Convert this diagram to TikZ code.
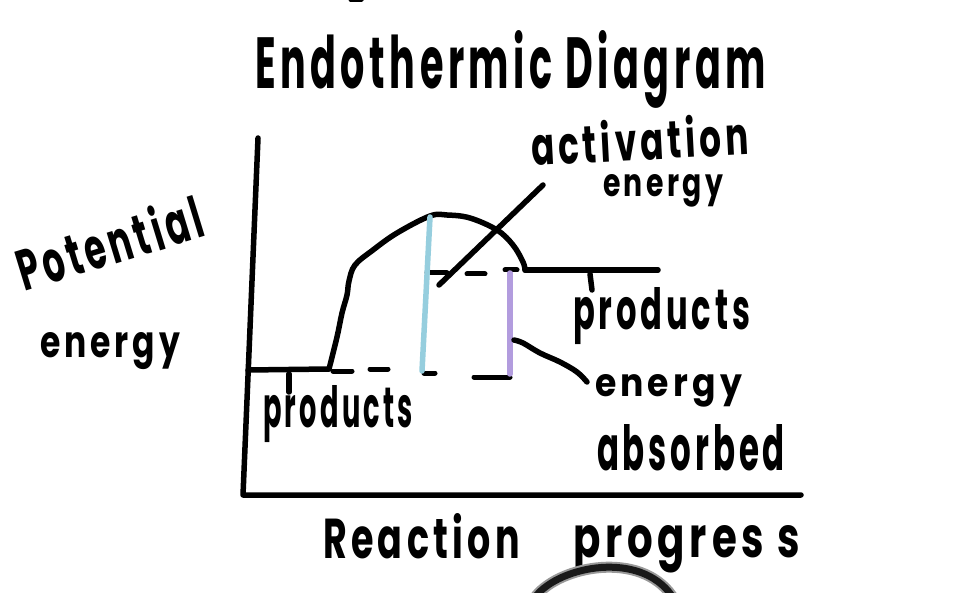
\documentclass[tikz,border=0pt]{standalone}
\usepackage{fontspec}
\setmainfont{Poppins}[LetterSpace=12]
\usepackage{graphicx}
\newcommand\hwtext[3]{\resizebox{#1pt}{#2pt}{\fontsize{40}{40}\selectfont\bfseries #3}}
\definecolor{actblue}{RGB}{150,206,222}
\definecolor{absviolet}{RGB}{178,156,222}
\begin{document}
\begin{tikzpicture}[x=1pt,y=-1pt,line cap=round,line join=round,
  pen/.style={line width=5.5pt,black},
  dashpen/.style={line width=5pt,black},
  bar/.style={line width=5.5pt},
  txt/.style={inner sep=0pt,outer sep=0pt,anchor=base west}]
\useasboundingbox[fill=white] (0,0) rectangle (960,593);

% texts
\node[txt] (title) at (255,89) {\hwtext{511}{58}{Endothermic Diagram}};
\node[txt,rotate=17] (ylab1) at (24,292) {\hwtext{192}{46}{Potential}};
\node[txt] (ylab2) at (40,357) {\hwtext{140}{25}{energy}};
\node[txt,rotate=3] (act1) at (532,166) {\hwtext{218}{42}{activation}};
\node[txt] (act2) at (603,197) {\hwtext{120}{22}{energy}};
\node[txt] (prodU) at (573,330) {\hwtext{177}{42}{products}};
\node[txt] (abs1) at (595,396) {\hwtext{147}{22}{energy}};
\node[txt] (abs2) at (597,470) {\hwtext{188}{46}{absorbed}};
\node[txt] (prodL) at (263,427) {\hwtext{150}{42}{products}};
\node[txt] (xlab1) at (323,558) {\hwtext{197}{45}{Reaction}};
\node[txt] (xlab2) at (573,557) {\hwtext{227}{32}{progres s}};

% axes
\coordinate (ytop) at (258,138);
\coordinate (origin) at (243,495);
\coordinate (xend) at (801,495);
\draw[pen] (ytop) -- (origin) -- (xend);

% reactant level and curve
\coordinate (rstart) at (248,370);
\coordinate (cstart) at (329,369);
\coordinate (cend) at (525,270);
\coordinate (pend) at (658,270);
\draw[pen] (rstart) -- (cstart);
\draw[pen] plot[smooth,tension=0.6] coordinates {(cstart) (337,337) (342,313) (347,295) (349,281) (355,265) (373,250) (397,233) (430,216) (447,215) (470,218) (497,230) (513,245) (523,262) (cend)};
\draw[pen] (cend) -- (pend);

% ticks
\coordinate (tickL1) at (289,374);
\coordinate (tickL2) at (289,392);
\coordinate (tickU1) at (590,274);
\coordinate (tickU2) at (592,290);
\draw[pen] (tickL1) -- (tickL2);
\draw[pen] (tickU1) -- (tickU2);

% dashes
\draw[dashpen] (333,371) -- (352,371);
\draw[dashpen] (370,369) -- (388,369);
\draw[dashpen] (424,373) -- (435,373);
\draw[dashpen] (474,377) -- (510,377);
\draw[dashpen] (427,273) -- (447,273);
\draw[dashpen] (467,274) -- (485,274);
\draw[dashpen] (505,270) -- (517,270);

% activation energy and energy absorbed bars
\coordinate (blueT) at (430,217);
\coordinate (blueB) at (422,371);
\coordinate (violT) at (510,273);
\coordinate (violB) at (510,374);
\draw[bar,actblue] (blueT) -- (blueB);
\draw[bar,absviolet] (violT) -- (violB);

% pointers
\coordinate (actP) at (439,285);
\coordinate (actQ) at (543,185);
\draw[pen] (actP) -- (actQ);
\coordinate (absP) at (514,340);
\coordinate (absQ) at (587,382);
\draw[pen] plot[smooth,tension=0.6] coordinates {(absP) (523,343) (540,353) (560,362) (577,372) (absQ)};

% stray marks
\draw[line width=3pt,black] (350,0.5) -- (362,0.5);
\draw[line width=11pt,black!40] (536,596) .. controls (560,566) and (640,550) .. (672,596);
\draw[line width=7pt,black!90] (536,596) .. controls (560,566) and (640,550) .. (672,596);
\end{tikzpicture}
\end{document}
